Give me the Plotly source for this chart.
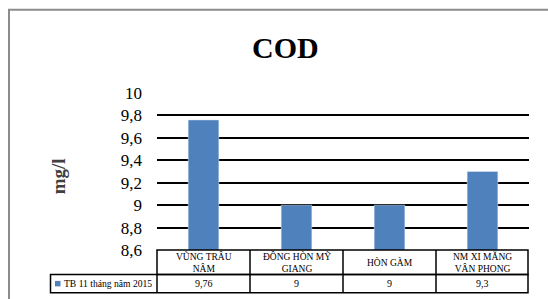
import plotly.graph_objects as go

categories = ["VŨNG TRÂU<br>NÂM", "ĐỒNG HÒN MỸ<br>GIANG", "HÒN GÀM", "NM XI MĂNG<br>VÂN PHONG"]
values = [9.76, 9.0, 9.0, 9.3]
value_labels = ["9,76", "9", "9", "9,3"]
series_name = "TB 11 tháng năm 2015"
tick_vals = [8.6, 8.8, 9.0, 9.2, 9.4, 9.6, 9.8, 10.0]
tick_text = ["8,6", "8,8", "9", "9,2", "9,4", "9,6", "9,8", "10"]

W, H = 548, 299
L, R, T, B = 157, 529, 92.5, 250
pw, ph = R - L, B - T

def px(x):
    return (x - L) / pw

def py(y):
    return (B - y) / ph

BLUE = "#4F81BD"
SERIF = "'Times New Roman', 'Liberation Serif', serif"

fig = go.Figure()
fig.add_trace(go.Bar(x=list(range(len(categories))), y=values, marker_color=BLUE,
                     width=0.33, showlegend=False, hoverinfo="skip"))

shapes = []
line = dict(color="black", width=1.5)
# outer frame
shapes.append(dict(type="rect", xref="paper", yref="paper", x0=px(9), x1=px(570), y0=py(9), y1=py(320),
                   line=dict(color="#8c8c8c", width=2), layer="below"))
# table rows
shapes.append(dict(type="rect", xref="paper", yref="paper", x0=px(157), x1=px(528), y0=py(250), y1=py(274.5), line=line))
shapes.append(dict(type="rect", xref="paper", yref="paper", x0=px(50.5), x1=px(528), y0=py(274.5), y1=py(293), line=line))
for i in range(1, len(categories)):
    shapes.append(dict(type="line", xref="x", yref="paper", x0=i - 0.5, x1=i - 0.5, y0=py(250), y1=py(293), line=line))
shapes.append(dict(type="line", xref="paper", yref="paper", x0=px(157), x1=px(157), y0=py(274.5), y1=py(293), line=line))
# legend key
shapes.append(dict(type="rect", xref="paper", yref="paper", x0=px(55), x1=px(60.5), y0=py(281), y1=py(286.5),
                   fillcolor=BLUE, line=dict(width=0)))

annotations = []
for i, c in enumerate(categories):
    annotations.append(dict(x=i, y=py(262.5), xref="x", yref="paper", text=c, showarrow=False,
                            xanchor="center", yanchor="middle",
                            font=dict(family=SERIF, size=9.5, color="black"), align="center"))
for i, v in enumerate(value_labels):
    annotations.append(dict(x=i, y=py(284), xref="x", yref="paper", text=v, showarrow=False,
                            xanchor="center", yanchor="middle",
                            font=dict(family=SERIF, size=10, color="black")))
annotations.append(dict(x=px(62), y=py(284), xref="paper", yref="paper", text=series_name, showarrow=False,
                        xanchor="left", yanchor="middle", font=dict(family=SERIF, size=9.6, color="black")))
annotations.append(dict(x=px(285), y=py(47), xref="paper", yref="paper", text="<b>COD</b>", showarrow=False,
                        xanchor="center", yanchor="middle", font=dict(family=SERIF, size=30, color="black")))
annotations.append(dict(x=px(58), y=py(176), xref="paper", yref="paper", text="<b>mg/l</b>", showarrow=False,
                        xanchor="center", yanchor="middle",
                        textangle=-90, font=dict(family=SERIF, size=19, color="#404040")))

fig.update_layout(
    width=W, height=H,
    margin=dict(l=L, r=W - R, t=T, b=H - B, pad=0),
    paper_bgcolor="white", plot_bgcolor="white",
    separators=", ",
    font=dict(family=SERIF),
    shapes=shapes, annotations=annotations,
    xaxis=dict(range=[-0.5, len(categories) - 0.5], showticklabels=False, showgrid=False,
               zeroline=False, showline=False, fixedrange=True),
    yaxis=dict(range=[8.6, 10.0], tickvals=tick_vals, ticktext=tick_text,
               showgrid=True, gridcolor="black", gridwidth=2, zeroline=False, showline=False,
               ticks="", ticklabelstandoff=14, fixedrange=True,
               tickfont=dict(family=SERIF, size=17, color="black")),
)

fig.write_html("out.html", config={"displayModeBar": False},
               post_script="document.body.style.margin='0';document.body.style.padding='0';")
